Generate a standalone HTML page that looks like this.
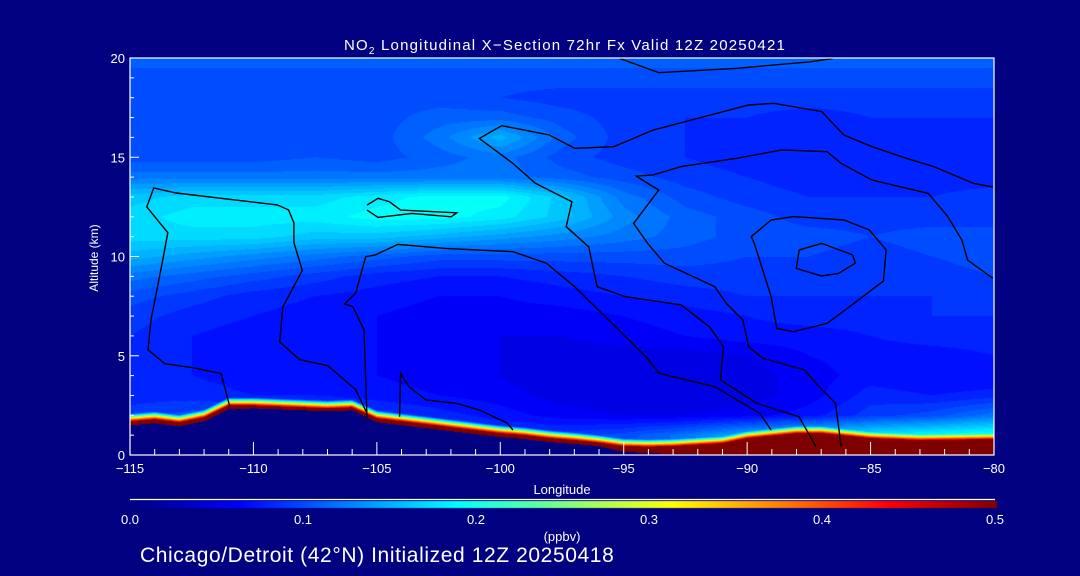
<!DOCTYPE html>
<html><head><meta charset="utf-8">
<style>
html,body{margin:0;padding:0;background:#000080;}
#wrap{position:relative;width:1080px;height:576px;background:#000080;overflow:hidden;font-family:"Liberation Sans",sans-serif;color:#fff;}
canvas{position:absolute;left:0;top:0;}
svg{position:absolute;left:0;top:0;}
</style></head>
<body>
<div id="wrap">
<canvas id="field" width="1080" height="576"></canvas>
<svg id="ov" width="1080" height="576"></svg>
</div>
<script>
// ---- data ----
const lons = [-115,-112.5,-110,-107.5,-105,-102.5,-100,-97.5,-95,-92.5,-90,-87.5,-85,-82.5,-80];
const alts = [0,1,2,3,4,5,6,7,8,9,10,11,12,13,14,15,16,17,18,19,20];
const a0  = [.10,.11,.11,.11,.10,.10,.09,.09,.10,.12,.15,.17,.18,.19,.20];
const a1  = [.10,.11,.11,.11,.10,.10,.09,.09,.10,.12,.15,.17,.18,.19,.20];
const a2  = [.09,.10,.10,.10,.09,.08,.07,.06,.055,.055,.06,.07,.09,.10,.12];
const a3  = [.08,.08,.075,.075,.07,.065,.06,.05,.045,.045,.05,.06,.08,.075,.08];
const a4  = [.08,.075,.07,.07,.065,.06,.055,.045,.045,.045,.05,.06,.07,.065,.065];
const a5  = [.08,.075,.07,.07,.065,.06,.055,.05,.05,.05,.055,.065,.07,.07,.075];
const a6  = [.085,.075,.07,.07,.065,.06,.055,.055,.06,.065,.07,.07,.075,.08,.08];
const a7  = [.09,.08,.075,.07,.065,.06,.06,.06,.065,.07,.075,.08,.08,.085,.085];
const a8  = [.10,.09,.08,.075,.07,.065,.065,.07,.075,.08,.085,.085,.085,.085,.09];
const a9  = [.12,.11,.10,.09,.08,.075,.075,.08,.085,.09,.09,.09,.09,.09,.095];
const a10 = [.15,.14,.13,.12,.11,.10,.10,.10,.10,.10,.095,.095,.09,.095,.10];
const a11 = [.17,.17,.17,.16,.16,.15,.14,.13,.12,.11,.10,.10,.095,.10,.10];
const a12 = [.17,.18,.18,.18,.19,.19,.18,.16,.13,.11,.10,.09,.09,.09,.09];
const a13 = [.16,.17,.17,.17,.18,.19,.19,.16,.12,.10,.09,.085,.085,.085,.09];
const a14 = [.12,.12,.12,.12,.12,.12,.12,.11,.10,.09,.085,.08,.08,.08,.08];
const a15 = [.10,.10,.10,.105,.10,.11,.12,.10,.09,.085,.08,.075,.075,.075,.08];
const a16 = [.095,.095,.095,.10,.10,.12,.15,.11,.09,.085,.08,.075,.075,.08,.08];
const a17 = [.095,.095,.095,.10,.10,.11,.11,.10,.09,.085,.085,.08,.085,.085,.085];
const a18 = [.10,.10,.10,.10,.10,.10,.095,.09,.09,.09,.09,.09,.09,.09,.09];
const a19 = [.10,.10,.10,.10,.10,.10,.10,.10,.10,.10,.10,.10,.10,.10,.10];
const a20 = [.11,.11,.11,.11,.11,.11,.11,.11,.11,.11,.11,.11,.11,.11,.11];
const grid = [a0,a1,a2,a3,a4,a5,a6,a7,a8,a9,a10,a11,a12,a13,a14,a15,a16,a17,a18,a19,a20];
const sfcLon   = [-115,-114,-113,-112,-111,-110,-109,-108,-107,-106,-105,-104,-103,-102,-101,-100,-99,-98,-97,-96,-95,-94,-93,-91,-90,-88,-87,-85,-83,-80];
const terrain  = [1.5,1.6,1.45,1.7,2.3,2.35,2.3,2.25,2.2,2.25,1.65,1.5,1.35,1.2,1.05,0.9,0.8,0.65,0.55,0.45,0.15,0.1,0.05,0,0,0,0,0,0,0];
const layerTop = [1.7,1.8,1.65,1.9,2.5,2.5,2.45,2.4,2.35,2.4,1.85,1.7,1.55,1.4,1.25,1.1,1.0,0.85,0.75,0.62,0.45,0.42,0.45,0.6,0.85,1.1,1.1,0.85,0.75,0.8];
const c1 = [[-110.97,2.5],[-111.31,4.1],[-112.45,4.4],[-113.59,4.6],[-114.27,5.3],[-114.15,6.8],[-113.70,9.65],[-113.47,11.2],[-114.32,12.5],[-114.04,13.45],[-113.13,13.2],[-109.04,12.6],[-108.58,12.35],[-108.36,11.7],[-108.36,10.7],[-108.02,9.3],[-108.81,7.45],[-108.93,5.7],[-108.13,4.8],[-106.99,4.5],[-105.86,3.3],[-105.40,2.1]];
const c2 = [[-105.40,1.85],[-105.52,6.30],[-105.97,7.47],[-106.31,7.61],[-105.86,8.15],[-105.45,9.99],[-105.06,10.08],[-104.15,10.61],[-102.22,10.41],[-99.49,10.24],[-98.13,9.66],[-96.99,8.48],[-96.31,7.64],[-95.40,6.55],[-94.04,4.87],[-93.58,4.12],[-91.31,3.44],[-89.49,2.10],[-89.03,1.26]];
const c3 = [[-80.05,13.5],[-80.84,13.69],[-82.44,14.53],[-83.57,14.95],[-84.94,15.53],[-86.08,16.12],[-86.98,17.30],[-88.92,17.72],[-89.94,17.63],[-93.81,16.37],[-95.40,15.53],[-96.99,15.45],[-98.01,16.12],[-99.94,16.59],[-100.85,15.95],[-99.49,14.69],[-98.58,13.69],[-97.10,12.76],[-97.33,11.50],[-96.42,10.49],[-96.08,8.48],[-94.94,7.98],[-92.67,7.56],[-91.53,6.46],[-90.96,5.46],[-91.08,3.78],[-89.60,2.60],[-87.90,1.93],[-87.21,0.42]];
const c4 = [[-86.19,0.42],[-86.42,2.60],[-87.21,3.61],[-87.67,4.28],[-89.37,4.87],[-89.94,5.46],[-90.17,6.80],[-90.85,7.64],[-91.31,8.48],[-93.35,9.66],[-94.03,10.66],[-94.60,11.67],[-93.58,13.35],[-93.92,13.60],[-94.49,14.05],[-93.81,14.11],[-92.67,14.53],[-90.40,14.95],[-88.58,15.37],[-86.76,15.28],[-86.19,14.69],[-84.94,13.85],[-82.66,13.18],[-81.87,12.01],[-81.30,10.83],[-81.07,9.82],[-80.05,8.90]];
const c5 = [[-89.03,11.84],[-88.12,12.01],[-86.08,11.84],[-85.05,11.34],[-84.37,10.33],[-84.48,8.76],[-85.85,7.47],[-86.76,6.63],[-88.12,6.21],[-88.80,6.38],[-89.03,7.98],[-89.71,10.66],[-89.83,11.0],[-89.03,11.84]];
const c6 = [[-87.89,10.33],[-86.98,10.66],[-85.73,10.08],[-85.62,9.66],[-86.30,9.15],[-86.98,9.02],[-88.01,9.40],[-87.89,10.33]];
const c7 = [[-95.17,19.98],[-93.58,19.26],[-90.4,19.48],[-87.44,19.81],[-86.53,19.98]];
const c8 = [[-104.08,1.93],[-104.04,4.11],[-103.7,3.44],[-103.01,2.77],[-101.76,2.60],[-100.85,2.27],[-99.71,1.60],[-99.49,1.26]];
const c9 = [[-105.4,12.59],[-104.95,12.93],[-104.49,12.76],[-104.04,12.34],[-101.76,12.2],[-101.99,12.0],[-103.58,12.17],[-104.95,11.97],[-105.4,12.34]];
const contours = [c1,c2,c3,c4,c5,c6,c7,c8,c9];
const xTicks = [-115,-110,-105,-100,-95,-90,-85,-80];
const yTicks = [0,5,10,15,20];
const cbTicks = [0.0,0.1,0.2,0.3,0.4,0.5];

const X0=130,X1=994,Y0=455,Y1=58;
const xs = lon => X0 + (lon+115)/35*(X1-X0);
const ys = a => Y0 - a/20*(Y0-Y1);
const lonOf = px => -115 + (px-X0)/(X1-X0)*35;
const altOf = py => (Y0-py)/(Y0-Y1)*20;

function jet(v){
  let n=Math.max(0,Math.min(1,v/0.5));
  const c=t=>Math.max(0,Math.min(1,t));
  const r=c(Math.min(4*n-1.5,-4*n+4.5));
  const g=c(Math.min(4*n-0.5,-4*n+3.5));
  const b=c(Math.min(4*n+0.5,-4*n+2.5));
  return [r*255|0,g*255|0,b*255|0];
}
function interp1(xa,ya,x){
  if(x<=xa[0])return ya[0];
  for(let i=1;i<xa.length;i++) if(x<=xa[i]){const t=(x-xa[i-1])/(xa[i]-xa[i-1]);return ya[i-1]+t*(ya[i]-ya[i-1]);}
  return ya[ya.length-1];
}
function field(lon,alt){
  let fi=(lon+115)/2.5; fi=Math.max(0,Math.min(lons.length-1.001,fi));
  let fj=Math.max(0,Math.min(alts.length-1.001,alt));
  const i=Math.floor(fi),j=Math.floor(fj),tx=fi-i,ty=fj-j;
  const v00=grid[j][i],v10=grid[j][i+1],v01=grid[j+1][i],v11=grid[j+1][i+1];
  return (v00*(1-tx)+v10*tx)*(1-ty)+(v01*(1-tx)+v11*tx)*ty;
}
const cv=document.getElementById('field'),ctx=cv.getContext('2d');
const img=ctx.createImageData(X1-X0,Y0-Y1);
for(let py=Y1;py<Y0;py++){
  const alt=altOf(py+0.5);
  for(let px=X0;px<X1;px++){
    const lon=lonOf(px+0.5);
    const k=((py-Y1)*(X1-X0)+(px-X0))*4;
    const ter=interp1(sfcLon,terrain,lon), top=interp1(sfcLon,layerTop,lon);
    let col;
    if(alt<ter){col=[0,0,128];}
    else if(alt<top){col=jet(0.5);}
    else{
      const d=alt-top;
      let v=field(lon,alt);
      if(d<0.45) v=Math.max(v,0.46-d*0.95);
      v=Math.round(v/0.01)*0.01;
      col=jet(v);
    }
    img.data[k]=col[0];img.data[k+1]=col[1];img.data[k+2]=col[2];img.data[k+3]=255;
  }
}
ctx.putImageData(img,X0,Y1);
for(let px=130;px<997;px++){
  const v=(px-130)/(997-130)*0.5;const c=jet(v);
  ctx.fillStyle=`rgb(${c[0]},${c[1]},${c[2]})`;ctx.fillRect(px,501,1,7);
}

const NS='http://www.w3.org/2000/svg';
const svg=document.getElementById('ov');
function mk(tag,attrs,parent){const e=document.createElementNS(NS,tag);for(const k in attrs)e.setAttribute(k,attrs[k]);(parent||svg).appendChild(e);return e;}
const cg=mk('g',{});


contours.forEach(c=>{
  const p=mk('polyline',{points:c.map(q=>xs(q[0]).toFixed(1)+','+ys(q[1]).toFixed(1)).join(' '),fill:'none',stroke:'#000','stroke-width':1.4},cg);
  
  
});
const fr=mk('rect',{x:X0,y:Y1,width:X1-X0,height:Y0-Y1,fill:'none',stroke:'#fff','stroke-width':1.2});


for(let l=-115;l<=-80;l++){
  const maj=(l%5===0);
  mk('line',{x1:xs(l),x2:xs(l),y1:Y0,y2:Y0-(maj?13:6),stroke:'#fff','stroke-width':1});
}
xTicks.forEach(l=>{
  const t=mk('text',{x:xs(l),y:Y0+18,fill:'#fff','font-size':13,'text-anchor':'middle','font-family':'Liberation Sans, sans-serif'});
  t.textContent=(l<0?'\u2212'+(-l):l);
  
  
});
yTicks.forEach(a=>{
  mk('line',{x1:X0,x2:X0+9,y1:ys(a),y2:ys(a),stroke:'#fff','stroke-width':1});
  const t=mk('text',{x:X0-5,y:ys(a)+5,fill:'#fff','font-size':13,'text-anchor':'end','font-family':'Liberation Sans, sans-serif'});
  t.textContent=a;
  
  
});
for(let a=1;a<20;a++){ if(a%5) mk('line',{x1:X0,x2:X0+4,y1:ys(a),y2:ys(a),stroke:'#fff','stroke-width':1}); }
function txt(s,attrs,name){const t=mk('text',Object.assign({fill:'#fff','font-family':'Liberation Sans, sans-serif'},attrs));t.textContent=s;
  
  return t;}
const title=txt('',{x:565,y:50,'font-size':15,'text-anchor':'middle','letter-spacing':'1.2'},'chart-title');
title.innerHTML='NO<tspan font-size="10" dy="4">2</tspan><tspan dy="-4"> Longitudinal X\u2212Section 72hr  Fx Valid 12Z 20250421</tspan>';
title.setAttribute('xml:space','preserve');
txt('Longitude',{x:562,y:494,'font-size':13,'text-anchor':'middle'},'x-axis-title');
txt('Altitude (km)',{x:98,y:258,'font-size':12,'text-anchor':'middle',transform:'rotate(-90 98 258)'},'y-axis-title');
mk('line',{x1:130,x2:995,y1:499.5,y2:499.5,stroke:'#fff','stroke-width':1.2});
cbTicks.forEach(v=>{
  txt(v.toFixed(1),{x:130+v/0.5*865,y:524,'font-size':13,'text-anchor':'middle'},'colorbar-tick-label');
});
txt('(ppbv)',{x:562,y:541,'font-size':13,'text-anchor':'middle'},'colorbar-units');
txt('Chicago/Detroit (42\u00b0N) Initialized 12Z 20250418',{x:140,y:562,'font-size':21,'letter-spacing':'0.6'},'init-caption');
</script>
</body></html>
